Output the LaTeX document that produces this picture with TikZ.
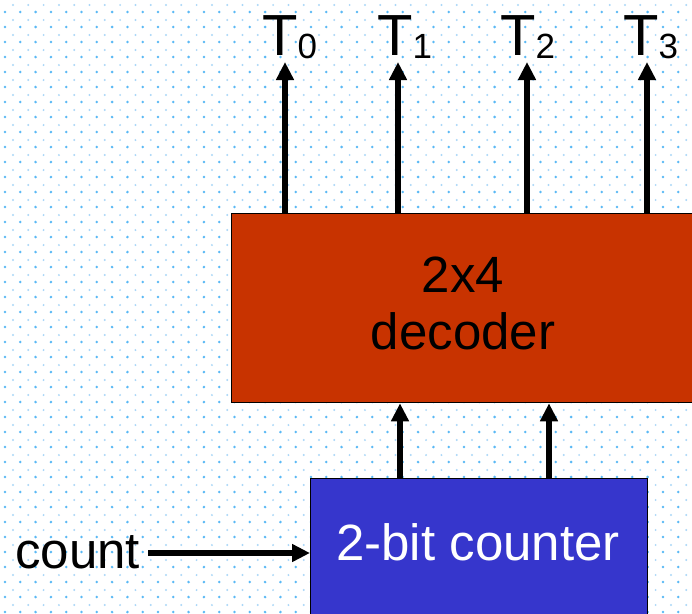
\documentclass[tikz,border=0pt]{standalone}
\usepackage{fontspec}
\setmainfont{Liberation Sans}
\usetikzlibrary{arrows.meta}
\definecolor{decfill}{RGB}{200,51,0}
\definecolor{cntfill}{RGB}{54,54,204}
\definecolor{dotc}{RGB}{90,185,245}
\definecolor{dotf}{RGB}{170,215,248}
\tikzset{
  box/.style={draw=black, line width=1.3pt, rectangle, inner sep=0pt},
  sig/.style={line width=6pt, -{Triangle[length=18pt,width=17pt]}},
  bigtxt/.style={font=\fontsize{51}{57}\selectfont, inner sep=0pt},
  tlab/.style={font=\fontsize{58}{58}\selectfont, inner sep=0pt, anchor=base west},
}
\newcommand{\sbs}[1]{\raisebox{-3pt}{\fontsize{35}{35}\selectfont #1}}
\begin{document}
\begin{tikzpicture}[x=1pt,y=-1pt]
\useasboundingbox (0,0) rectangle (692,613);
\clip (0,0) rectangle (692,613);
\fill[white] (0,0) rectangle (692,613);
% background dot pattern
\foreach \i in {0,...,45}{
  \foreach \j in {0,...,40}{
    \fill[dotc] (5+15.3*\i, 12+15*\j) circle (1.4pt);
    \fill[dotf] (13+15.3*\i, 5+15*\j) circle (1.1pt);
  }
}
% boxes
\node[box, fill=decfill, anchor=north west, minimum width=474pt, minimum height=189pt] (dec) at (231,213) {};
\node[bigtxt, align=center] (dectext) at (463,303) {2x4\\decoder};
\node[box, fill=cntfill, anchor=north west, minimum width=337pt, minimum height=150pt] (counter) at (310,478) {};
\node[bigtxt, text=white] (ctext) at (478,542) {2-bit counter};
% count input
\node[bigtxt, anchor=base west] (count) at (15,568) {count};
\coordinate (cin) at (148,553);
\draw[sig] (cin) -- (cin -| counter.west);
% counter to decoder
\coordinate (ca) at (400,0);
\coordinate (cb) at (549,0);
\draw[sig] (ca |- counter.north) -- (ca |- dec.south);
\draw[sig] (cb |- counter.north) -- (cb |- dec.south);
% outputs
\node[tlab] (t0) at (262,55) {T\sbs{0}};
\node[tlab] (t1) at (377,55) {T\sbs{1}};
\node[tlab] (t2) at (500,55) {T\sbs{2}};
\node[tlab] (t3) at (623,55) {T\sbs{3}};
\coordinate (o0) at (285,62);
\coordinate (o1) at (398,62);
\coordinate (o2) at (527,62);
\coordinate (o3) at (647,62);
\foreach \k in {0,1,2,3}{
  \draw[sig] (o\k |- dec.north) -- (o\k);
}
\end{tikzpicture}
\end{document}
